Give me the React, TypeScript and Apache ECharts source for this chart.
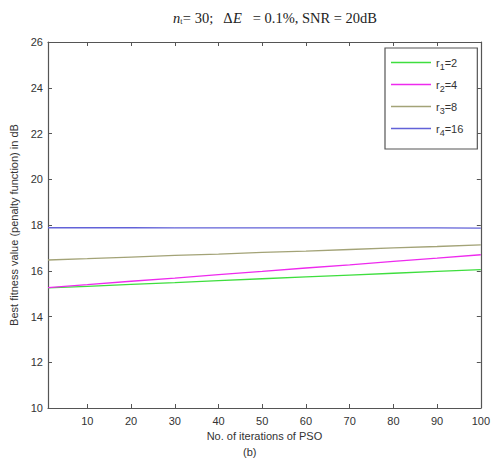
import React, { useEffect, useRef } from "react";
import * as echarts from "echarts";

const iterations = [1, 10, 20, 30, 40, 50, 60, 70, 80, 90, 100];
const r1Values = [15.25, 15.32, 15.4, 15.48, 15.57, 15.65, 15.73, 15.81, 15.89, 15.97, 16.05];
const r2Values = [15.26, 15.39, 15.54, 15.68, 15.83, 15.97, 16.12, 16.26, 16.41, 16.55, 16.7];
const r3Values = [16.47, 16.53, 16.6, 16.67, 16.73, 16.8, 16.86, 16.93, 17.0, 17.06, 17.13];
const r4Values = [17.88, 17.88, 17.88, 17.87, 17.87, 17.87, 17.87, 17.87, 17.87, 17.87, 17.86];
const seriesNames = ["r1=2", "r2=4", "r3=8", "r4=16"];
const seriesColors = ["#3ede3e", "#ee2aee", "#a3a377", "#6262d8"];
const xTicks = [10, 20, 30, 40, 50, 60, 70, 80, 90, 100];
const yTicks = [10, 12, 14, 16, 18, 20, 22, 24, 26];

export default function App() {
  const ref = useRef<HTMLDivElement>(null);
  useEffect(() => {
    if (!ref.current) return;
    const chart = echarts.init(ref.current, null, { renderer: "svg" });
    const all = [r1Values, r2Values, r3Values, r4Values];
    const axisStyle = { lineStyle: { color: "#555", width: 1.2 } };
    const labelFont = { fontFamily: "Liberation Sans", fontSize: 11, color: "#333" };
    chart.setOption({
      animation: false,
      backgroundColor: "#fff",
      title: {
        text: "{i|n}{s|t}{n|= 30;   Δ}{i|E}{n|   = 0.1%, SNR = 20dB}",
        left: 270,
        textAlign: "center",
        top: 5,
        textStyle: {
          fontWeight: "normal",
          rich: {
            n: { fontFamily: "Liberation Serif", fontSize: 14.5, fontWeight: "normal", color: "#222" },
            i: { fontFamily: "Liberation Serif", fontSize: 14.5, fontStyle: "italic", fontWeight: "normal", color: "#222" },
            s: { fontFamily: "Liberation Serif", fontSize: 8, fontWeight: "normal", color: "#222", verticalAlign: "bottom", padding: [7, 0, 0, 0] },
          },
        },
      },
      grid: { left: 48, right: 10, top: 42, bottom: 66, containLabel: false },
      legend: {
        orient: "vertical",
        left: 385,
        top: 48,
        backgroundColor: "#fff",
        borderColor: "#555",
        borderWidth: 1.2,
        padding: [9, 14, 12, 6],
        itemGap: 8,
        itemWidth: 40,
        itemHeight: 10,
        icon: "path://M0,4L40,4L40,5.5L0,5.5Z",
        data: seriesNames,
        formatter: (name: string) => {
          const m = name.match(/^r(\d)=(\d+)$/);
          if (!m) return name;
          return `{a|r}{s|${m[1]}}{a|=${m[2]}}`;
        },
        textStyle: {
          rich: {
            a: { fontFamily: "Liberation Sans", fontSize: 11, color: "#333" },
            s: { fontFamily: "Liberation Sans", fontSize: 9, color: "#333", verticalAlign: "bottom", padding: [8, 0, 0, 0] },
          },
        },
      },
      xAxis: [
        {
          type: "value",
          min: 1,
          max: 100,
          name: "No. of iterations of PSO",
          nameLocation: "middle",
          nameGap: 21,
          nameTextStyle: labelFont,
          axisLine: axisStyle,
          axisTick: { inside: true, length: 4, lineStyle: { color: "#555" }, customValues: xTicks },
          axisLabel: { ...labelFont, margin: 7, customValues: xTicks },
          splitLine: { show: false },
        },
        {
          type: "value",
          min: 1,
          max: 100,
          position: "top",
          axisLine: axisStyle,
          axisTick: { inside: true, length: 4, lineStyle: { color: "#555" }, customValues: xTicks },
          axisLabel: { show: false },
          splitLine: { show: false },
        },
      ],
      yAxis: [
        {
          type: "value",
          min: 10,
          max: 26,
          interval: 2,
          name: "Best fitness value (penalty function) in dB",
          nameLocation: "middle",
          nameGap: 24,
          nameTextStyle: labelFont,
          axisLine: axisStyle,
          axisTick: { inside: true, length: 4, lineStyle: { color: "#555" } },
          axisLabel: { ...labelFont, margin: 5, customValues: yTicks },
          splitLine: { show: false },
        },
        {
          type: "value",
          min: 10,
          max: 26,
          interval: 2,
          position: "right",
          axisLine: axisStyle,
          axisTick: { inside: true, length: 4, lineStyle: { color: "#555" } },
          axisLabel: { show: false },
          splitLine: { show: false },
        },
      ],
      graphic: [
        {
          type: "text",
          left: 243,
          top: 446,
          style: { text: "(b)", fontFamily: "Liberation Sans", fontSize: 11, fill: "#333" },
        },
      ],
      series: seriesNames.map((name, k) => ({
        name,
        type: "line",
        xAxisIndex: 0,
        yAxisIndex: 0,
        showSymbol: false,
        symbol: "none",
        color: seriesColors[k],
        lineStyle: { width: 1.3, color: seriesColors[k] },
        data: iterations.map((x, i) => [x, all[k][i]]),
      })),
    });
    return () => chart.dispose();
  }, []);
  return <div ref={ref} style={{ width: 493, height: 474, position: "absolute", left: 0, top: 0 }} />;
}
